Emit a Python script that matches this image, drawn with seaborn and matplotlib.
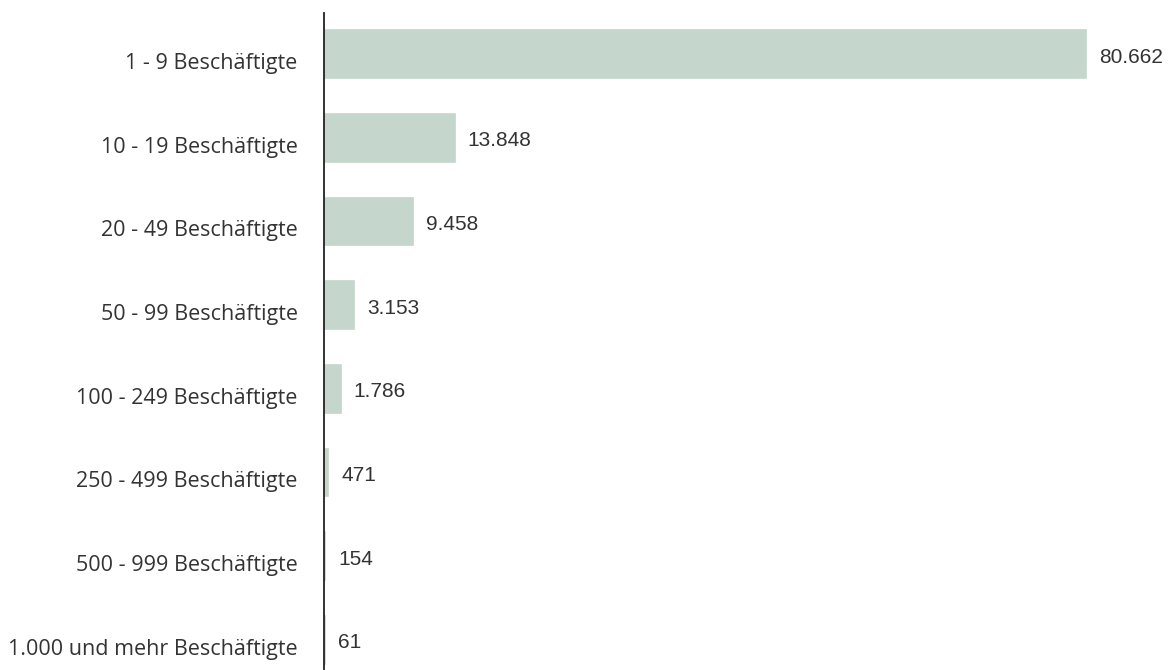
import matplotlib
matplotlib.use("Agg")
import matplotlib.pyplot as plt
import matplotlib.transforms as mtransforms
import seaborn as sns
import pandas as pd

categories = ["1 - 9 Beschäftigte", "10 - 19 Beschäftigte", "20 - 49 Beschäftigte",
              "50 - 99 Beschäftigte", "100 - 249 Beschäftigte", "250 - 499 Beschäftigte",
              "500 - 999 Beschäftigte", "1.000 und mehr Beschäftigte"]
values = [80662, 13848, 9458, 3153, 1786, 471, 154, 61]
value_labels = ["80.662", "13.848", "9.458", "3.153", "1.786", "471", "154", "61"]

sns.set_theme(style="white")
plt.rcParams['font.family'] = ['Open Sans', 'DejaVu Sans']

df = pd.DataFrame({"cat": categories, "val": values})

fig = plt.figure(figsize=(11.7, 6.7), dpi=100)
ax = fig.add_axes([324/1170, 0, (1160-324)/1170, (670-13)/670])

bar_color = "#c5d7cc"
sns.barplot(data=df, y="cat", x="val", orient="h", color=bar_color,
            saturation=1, width=0.57, edgecolor=bar_color, linewidth=1.2, ax=ax)

ax.set_xlim(0, 80662 * (1160 - 324) / (1086 - 324))
ax.set_ylim(7.36, -0.49)
ax.set_xlabel("")
ax.set_ylabel("")
ax.set_xticks([])
for s in ["top", "right", "bottom"]:
    ax.spines[s].set_visible(False)
ax.spines["left"].set_color("#222222")
ax.spines["left"].set_linewidth(1.3)
ax.spines["left"].set_zorder(5)
ax.tick_params(axis="y", length=0, pad=19, labelsize=15.5, labelcolor="#333333")

shift = mtransforms.ScaledTranslation(0, -7/100, fig.dpi_scale_trans)
for lbl in ax.get_yticklabels():
    lbl.set_transform(lbl.get_transform() + shift)

for i, (v, lab) in enumerate(zip(values, value_labels)):
    ax.annotate(lab, xy=(v, i), xytext=(13, -3), textcoords="offset pixels",
                va="center", ha="left", fontsize=15, color="#333333",
                family=["Liberation Sans", "DejaVu Sans"])

fig.savefig("out.png", dpi=100)
